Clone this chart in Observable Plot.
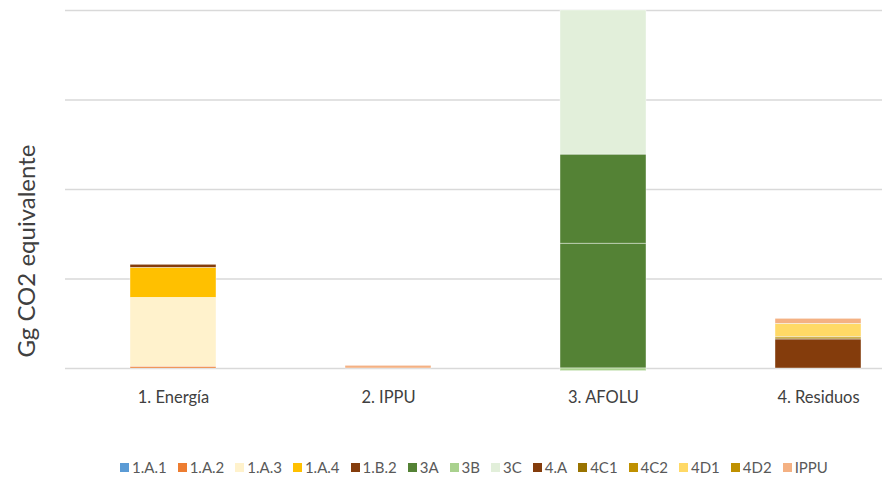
<!DOCTYPE html>
<html>
<head>
<meta charset="utf-8">
<script src="https://cdn.jsdelivr.net/npm/d3@7"></script>
<script src="https://cdn.jsdelivr.net/npm/@observablehq/plot@0.6"></script>
<style>
  html, body { margin: 0; padding: 0; background: #fff; }
  #wrap { position: relative; width: 882px; height: 478px; font-family: Lato, "Open Sans", sans-serif; }
  #ytitle { position: absolute; left: 25px; top: 251px; transform: translate(-50%, -50%) rotate(-90deg); white-space: nowrap; font-size: 24px; color: #404040; }
  #legend { position: absolute; left: 120px; top: 458px; display: flex; align-items: center; font-size: 15px; color: #595959; white-space: nowrap; }
  .item { display: flex; align-items: center; margin-right: 11px; }
  .sw { width: 9px; height: 9px; margin-right: 3px; }
</style>
</head>
<body>
<div id="wrap">
  <div id="chart"></div>
  <div id="ytitle">Gg CO2 equivalente</div>
  <div id="legend"></div>
</div>
<script>
// Categories (x axis)
const categories = ["1. Energía", "2. IPPU", "3. AFOLU", "4. Residuos"];
// Legend series and colours
const seriesNames = ["1.A.1", "1.A.2", "1.A.3", "1.A.4", "1.B.2", "3A", "3B", "3C", "4.A", "4C1", "4C2", "4D1", "4D2", "IPPU"];
const seriesColors = ["#5B9BD5", "#ED7D31", "#FFF2CC", "#FFC000", "#843C0C", "#548235", "#A9D18E", "#E2EFDA", "#843C0C", "#997300", "#BF9000", "#FFD966", "#BF9000", "#F4B183"];
// Values per series, one per category (estimated, arbitrary units; gridline = 100)
const v_1A1 = [0, 0, 0, 0];
const v_1A2 = [2, 0, 0, 0];
const v_1A3 = [77, 0, 0, 0];
const v_1A4 = [33.5, 0, 0, 0];
const v_1B2 = [3.4, 0, 0, 0];
const v_3A_part1 = [0, 0, 139.5, 0];
const v_3A_part2 = [0, 0, 99.5, 0];
const v_3B = [0, 0, -3, 0];
const v_3C = [0, 0, 161, 0];
const v_4A = [0, 0, 0, 32.4];
const v_4C1 = [0, 0, 0, 1.2];
const v_4C2 = [0, 0, 0, 1.8];
const v_4D1 = [0, 0, 0, 14.3];
const v_4D2 = [0, 0, 0, 0.3];
const v_IPPU = [0, 3, 0, 5.5];
// Gridline ticks
const yTicks = [0, 100, 200, 300, 400];

const stackRows = [
  ["1.A.1", v_1A1], ["1.A.2", v_1A2], ["1.A.3", v_1A3], ["1.A.4", v_1A4], ["1.B.2", v_1B2],
  ["3A", v_3A_part1], ["3A", v_3A_part2], ["3B", v_3B], ["3C", v_3C],
  ["4.A", v_4A], ["4C1", v_4C1], ["4C2", v_4C2], ["4D1", v_4D1], ["4D2", v_4D2], ["IPPU", v_IPPU]
];
const data = [];
stackRows.forEach(([s, vals], k) => {
  vals.forEach((v, i) => { if (v !== 0) data.push({cat: categories[i], series: s, value: v, order: k}); });
});

const chart = Plot.plot({
  width: 882,
  height: 420,
  marginTop: 10,
  marginBottom: 52,
  marginLeft: 65,
  marginRight: 0,
  style: {fontFamily: "Lato, 'Open Sans', sans-serif", fontSize: "16px", color: "#404040", background: "transparent"},
  x: {domain: categories, range: [65, 926], paddingInner: 0.6, paddingOuter: 0.3, label: null},
  y: {domain: [0, 400], label: null},
  color: {domain: seriesNames, range: seriesColors},
  marks: [
    Plot.gridY(yTicks, {stroke: "#d9d9d9", strokeOpacity: 1, strokeWidth: 1.3}),
    Plot.barY(data, Plot.stackY({x: "cat", y: "value", fill: "series", order: "order", stroke: "#fff", strokeWidth: 0.5, strokeOpacity: 0.8})),
    Plot.axisX({tickSize: 0, tickPadding: 23, fontSize: 16.5, fill: "#404040"}),
    Plot.axisY({ticks: [], label: null})
  ]
});
document.getElementById("chart").appendChild(chart);

const legend = document.getElementById("legend");
seriesNames.forEach((s, i) => {
  const it = document.createElement("div");
  it.className = "item";
  const sw = document.createElement("span");
  sw.className = "sw";
  sw.style.background = seriesColors[i];
  const t = document.createElement("span");
  t.textContent = s;
  it.appendChild(sw); it.appendChild(t);
  legend.appendChild(it);
});
</script>
</body>
</html>
